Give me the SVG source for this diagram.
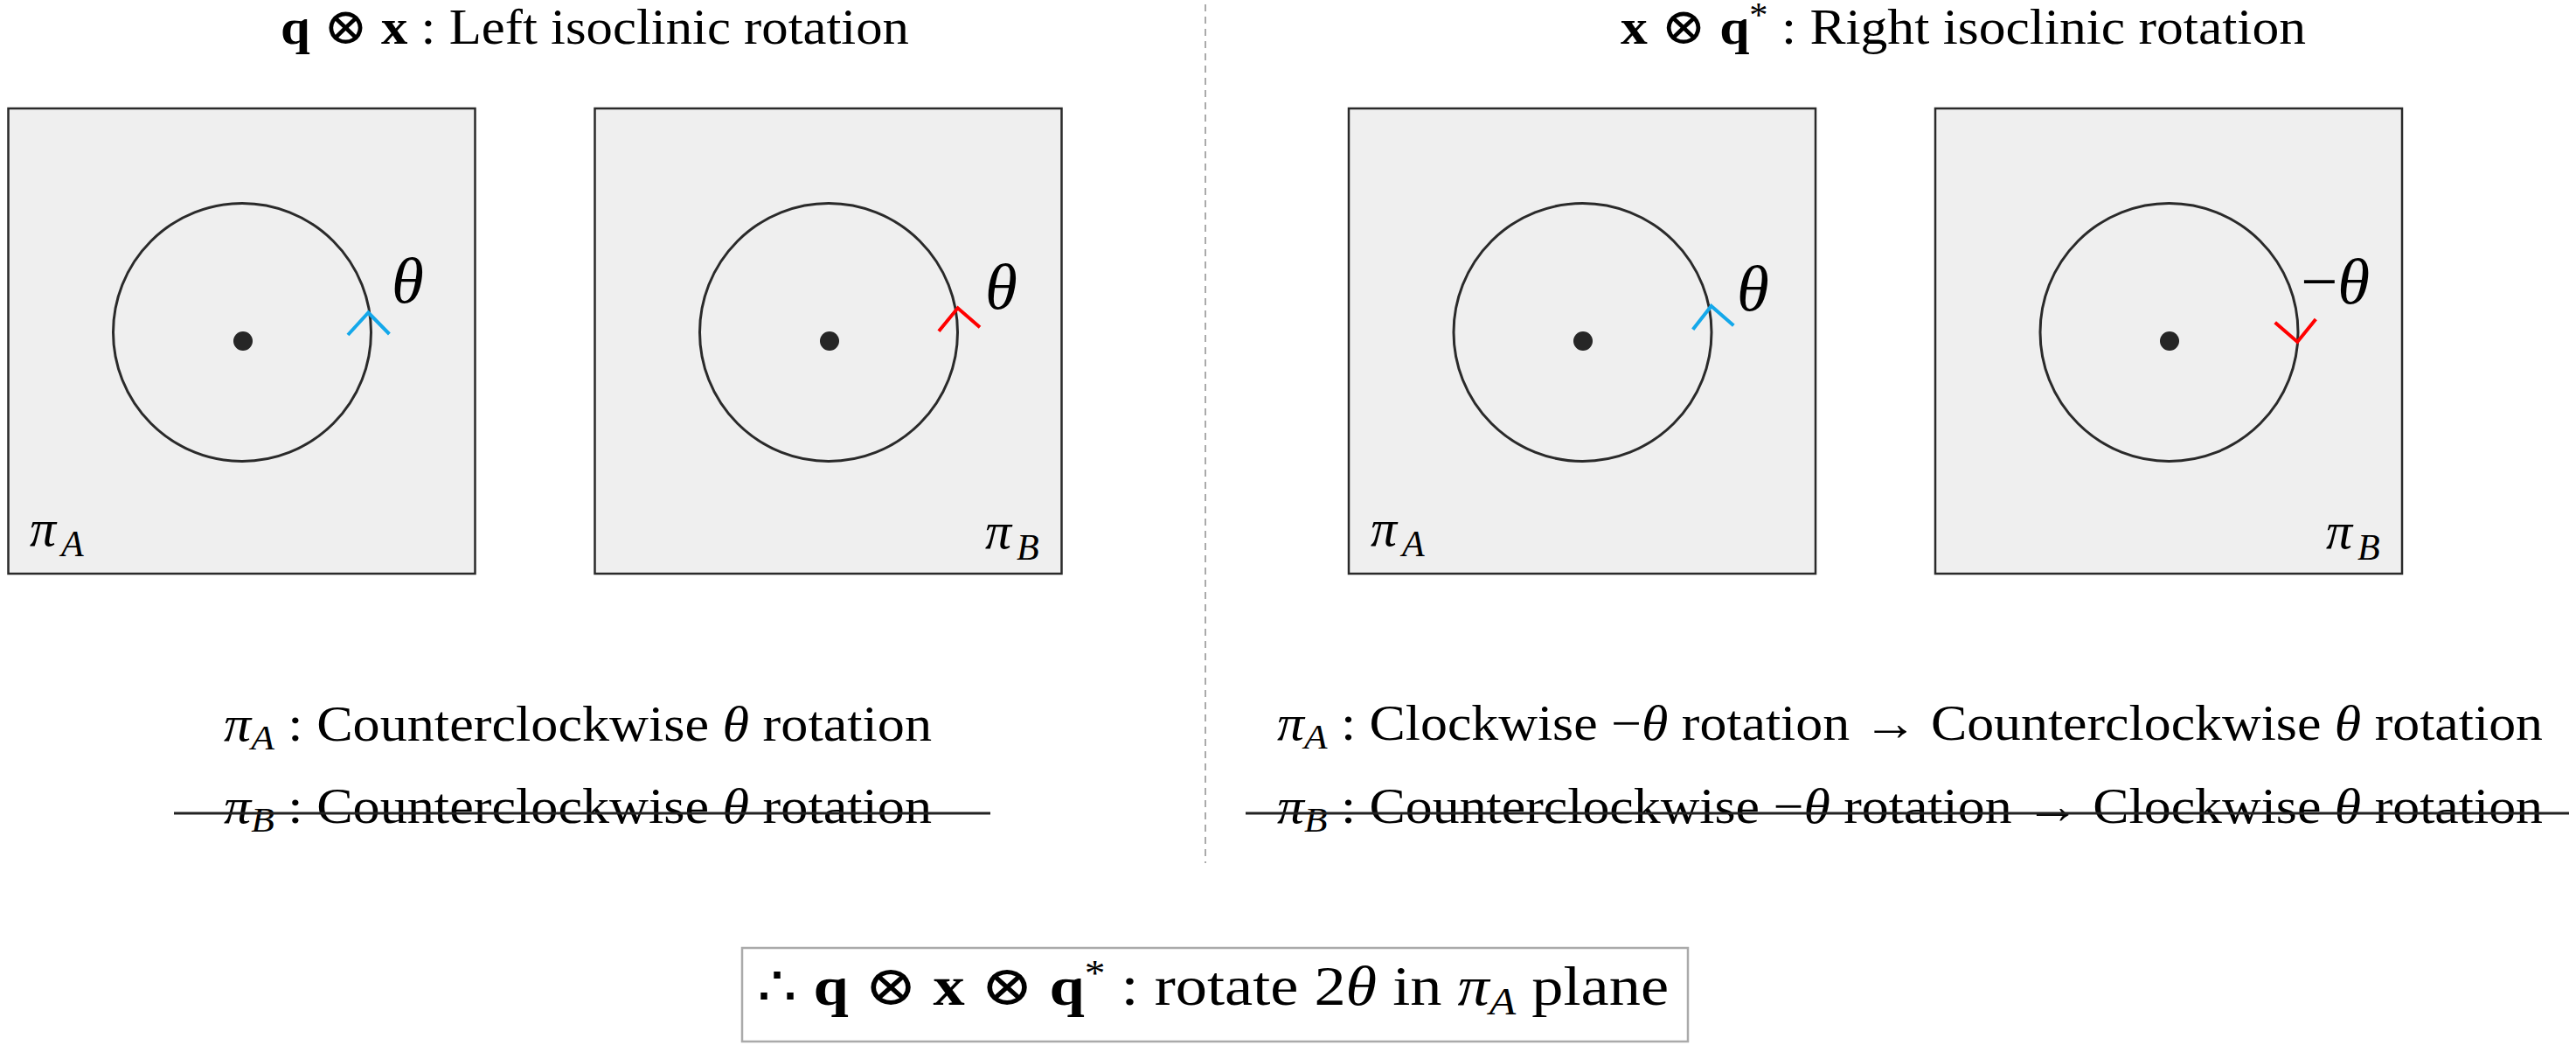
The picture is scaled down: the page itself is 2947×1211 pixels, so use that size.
<svg xmlns="http://www.w3.org/2000/svg" width="2947" height="1211" viewBox="0 0 2947 1211">
<style>
.t{font-family:"Liberation Serif","DejaVu Serif",serif;fill:#000}
.b{font-weight:bold}
.i{font-style:italic}
.op{font-family:"DejaVu Serif",serif;font-weight:normal}
.box{fill:#efefef;stroke:#2a2a2a;stroke-width:2.5}
.circ{fill:none;stroke:#2a2a2a;stroke-width:3}
.dot{fill:#262626}
.chev{fill:none;stroke-width:4;stroke-linecap:butt;stroke-linejoin:miter}
.blue{stroke:#14a8ea}
.red{stroke:#ff0000}
.strike{stroke:#222;stroke-width:3}
.big{font-size:75px}
.lab{font-size:60px}
.sub{font-size:42px}
</style>
<rect width="2947" height="1211" fill="#fff"/>

<g id="divider">
<line x1="1379" y1="5" x2="1379" y2="987" stroke="#aaa" stroke-width="2" stroke-dasharray="8 6"/>
</g>

<g id="title-left">
<text class="t" x="321" y="50" font-size="58" textLength="719" lengthAdjust="spacingAndGlyphs"><tspan class="b">q</tspan> <tspan class="op">⊗</tspan> <tspan class="b">x</tspan> : Left isoclinic rotation</text>
</g>
<g id="title-right">
<text class="t" x="1854" y="50" font-size="58" textLength="784" lengthAdjust="spacingAndGlyphs"><tspan class="b">x</tspan> <tspan class="op">⊗</tspan> <tspan class="b">q</tspan><tspan font-size="40" dy="-20">*</tspan><tspan dy="20"> : Right isoclinic rotation</tspan></text>
</g>

<g id="plane-left-A">
<rect class="box" x="9.5" y="124" width="534" height="532"/>
<circle class="circ" cx="277" cy="380" r="147.5"/>
<circle class="dot" cx="278" cy="390" r="11"/>
<polyline class="chev blue" points="398,383 421.4,357.5 445.4,382"/>
<text class="t i big" x="448" y="346">θ</text>
<text class="t i lab" x="34" y="624">π</text><text class="t i sub" x="70" y="636">A</text>
</g>

<g id="plane-left-B">
<rect class="box" x="680.5" y="124" width="534" height="532"/>
<circle class="circ" cx="948" cy="380" r="147.5"/>
<circle class="dot" cx="949" cy="390" r="11"/>
<polyline class="chev red" points="1074,378.7 1095.7,352.3 1121,374.3"/>
<text class="t i big" x="1127" y="353">θ</text>
<text class="t i lab" x="1127" y="627">π</text><text class="t i sub" x="1163" y="640">B</text>
</g>

<g id="plane-right-A">
<rect class="box" x="1543" y="124" width="534" height="532"/>
<circle class="circ" cx="1810.5" cy="380" r="147.5"/>
<circle class="dot" cx="1811" cy="390" r="11"/>
<polyline class="chev blue" points="1936.7,376.7 1957.7,350 1983.3,372.3"/>
<text class="t i big" x="1987" y="355">θ</text>
<text class="t i lab" x="1568" y="624">π</text><text class="t i sub" x="1604" y="636">A</text>
</g>

<g id="plane-right-B">
<rect class="box" x="2214" y="124" width="534" height="532"/>
<circle class="circ" cx="2481.5" cy="380" r="147.5"/>
<circle class="dot" cx="2482" cy="390" r="11"/>
<polyline class="chev red" points="2602.7,368.7 2628.3,391 2649.3,365"/>
<text class="t big" x="2632" y="347">−<tspan class="i">θ</tspan></text>
<text class="t i lab" x="2661" y="627">π</text><text class="t i sub" x="2697" y="640">B</text>
</g>

<g id="desc-left">
<text class="t" x="256" y="847" font-size="57" textLength="810" lengthAdjust="spacingAndGlyphs"><tspan class="i">π</tspan><tspan class="i" font-size="40" dy="10">A</tspan><tspan dy="-10"> : Counterclockwise </tspan><tspan class="i">θ</tspan> rotation</text>
<text class="t" x="256" y="941" font-size="57" textLength="810" lengthAdjust="spacingAndGlyphs"><tspan class="i">π</tspan><tspan class="i" font-size="40" dy="10">B</tspan><tspan dy="-10"> : Counterclockwise </tspan><tspan class="i">θ</tspan> rotation</text>
<line class="strike" x1="199" y1="930" x2="1133" y2="930"/>
</g>

<g id="desc-right">
<text class="t" x="1461" y="846" font-size="57" textLength="1448" lengthAdjust="spacingAndGlyphs"><tspan class="i">π</tspan><tspan class="i" font-size="40" dy="10">A</tspan><tspan dy="-10"> : Clockwise −</tspan><tspan class="i">θ</tspan> rotation → Counterclockwise <tspan class="i">θ</tspan> rotation</text>
<text class="t" x="1461" y="941" font-size="57" textLength="1448" lengthAdjust="spacingAndGlyphs"><tspan class="i">π</tspan><tspan class="i" font-size="40" dy="10">B</tspan><tspan dy="-10"> : Counterclockwise −</tspan><tspan class="i">θ</tspan> rotation → Clockwise <tspan class="i">θ</tspan> rotation</text>
<line class="strike" x1="1425" y1="930" x2="2939" y2="930"/>
</g>

<g id="conclusion">
<rect x="849" y="1084" width="1082" height="107" fill="#fff" stroke="#aaa" stroke-width="2.5"/>
<text class="t" x="866" y="1149" font-size="64" textLength="1043" lengthAdjust="spacingAndGlyphs">∴ <tspan class="b">q</tspan> <tspan class="op">⊗</tspan> <tspan class="b">x</tspan> <tspan class="op">⊗</tspan> <tspan class="b">q</tspan><tspan font-size="42" dy="-22">*</tspan><tspan dy="22"> : rotate 2</tspan><tspan class="i">θ</tspan> in <tspan class="i">π</tspan><tspan class="i" font-size="44" dy="11">A</tspan><tspan dy="-11"> plane</tspan></text>
</g>
</svg>
